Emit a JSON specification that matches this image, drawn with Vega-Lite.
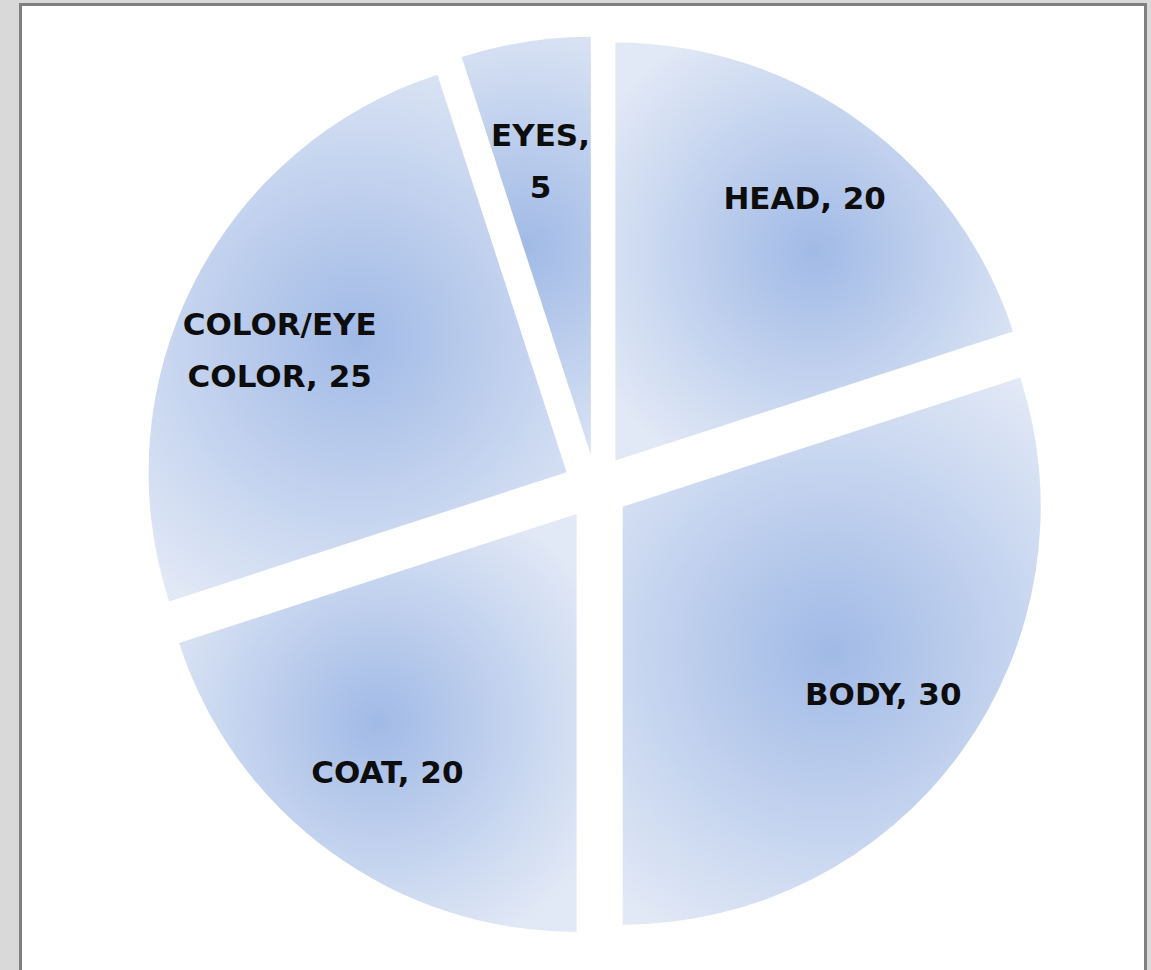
{
  "$schema": "https://vega.github.io/schema/vega-lite/v6.json",
  "width": 1125,
  "height": 965.5,
  "autosize": {"type": "none"},
  "padding": {"left": 20.5, "top": 4.5, "right": 5.5, "bottom": 0},
  "background": "#d9d9d9",
  "data": {
    "values": [
      {"category": "HEAD", "value": 20, "rank": 1, "label": "HEAD, 20"},
      {"category": "BODY", "value": 30, "rank": 2, "label": "BODY, 30"},
      {"category": "COAT", "value": 20, "rank": 3, "label": "COAT, 20"},
      {"category": "COLOR/EYE COLOR", "value": 25, "rank": 4, "label": "COLOR/EYE\nCOLOR, 25"},
      {"category": "EYES", "value": 5, "rank": 5, "label": "EYES,\n5"}
    ]
  },
  "layer": [
    {
      "data": {"values": [{"frame": 1}]},
      "mark": {
        "type": "rect",
        "fill": "white",
        "stroke": "#808080",
        "strokeWidth": 3,
        "strokeDash": [2090.5, 1125, 975.5]
      },
      "encoding": {}
    },
    {
      "mark": {
        "type": "arc",
        "radius": 418,
        "xOffset": {"expr": "13 + 33*sin(scale('theta', (datum.value_start + datum.value_end)/2))"},
        "yOffset": {"expr": "-33*cos(scale('theta', (datum.value_start + datum.value_end)/2))"},
        "fill": {
          "gradient": "radial",
          "x1": 0.5, "y1": 0.5, "r1": 0,
          "x2": 0.5, "y2": 0.5, "r2": 0.6,
          "stops": [
            {"offset": 0, "color": "#a1bae6"},
            {"offset": 1, "color": "#e2e9f6"}
          ]
        },
        "stroke": null
      },
      "encoding": {
        "theta": {"field": "value", "type": "quantitative", "stack": true},
        "order": {"field": "rank", "type": "quantitative"}
      }
    },
    {
      "mark": {
        "type": "text",
        "radius": 322,
        "xOffset": {"expr": "13 + 33*sin(scale('theta', (datum.value_start + datum.value_end)/2))"},
        "yOffset": {"expr": "-33*cos(scale('theta', (datum.value_start + datum.value_end)/2))"},
        "font": "DejaVu Sans",
        "fontWeight": "bold",
        "fontSize": 31,
        "lineHeight": 52,
        "lineBreak": "\n",
        "align": "center",
        "baseline": "middle",
        "color": "#0d0d0d"
      },
      "encoding": {
        "theta": {"field": "value", "type": "quantitative", "stack": true},
        "order": {"field": "rank", "type": "quantitative"},
        "text": {"field": "label", "type": "nominal"}
      }
    }
  ]
}
